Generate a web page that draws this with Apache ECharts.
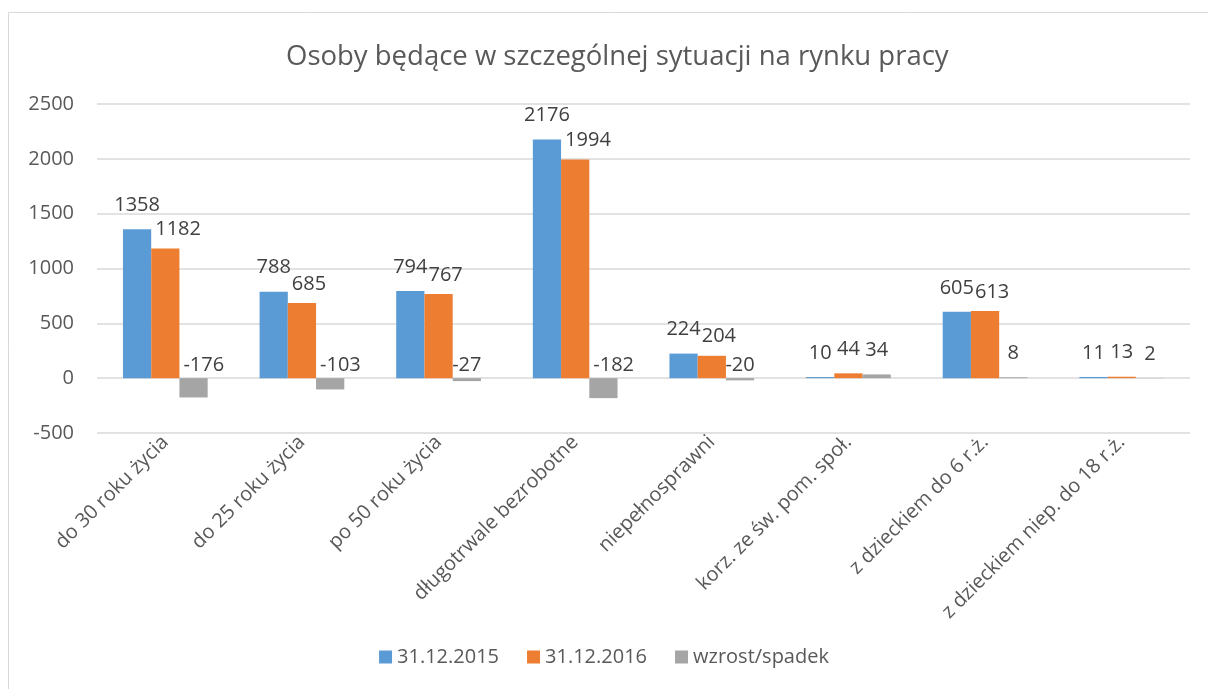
<!DOCTYPE html>
<html>
<head>
<meta charset="utf-8">
<script src="https://cdn.jsdelivr.net/npm/echarts@6/dist/echarts.min.js"></script>
<style>
  html, body { margin: 0; padding: 0; background: #fff; }
  #chart { width: 1208px; height: 689px; }
</style>
</head>
<body>
<div id="chart"></div>
<script>
// dane z wykresu
var categories = ['do 30 roku życia', 'do 25 roku życia', 'po 50 roku życia', 'długotrwale bezrobotne',
    'niepełnosprawni', 'korz. ze św. pom. społ.', 'z dzieckiem do 6 r.ż.', 'z dzieckiem niep. do 18 r.ż.']
var seriesNames = ['31.12.2015', '31.12.2016', 'wzrost/spadek']
var values2015 = [1358, 788, 794, 2176, 224, 10, 605, 11]
var values2016 = [1182, 685, 767, 1994, 204, 44, 613, 13]
var change = [-176, -103, -27, -182, -20, 34, 8, 2]
var colors = ['#5B9BD5', '#ED7D31', '#A5A5A5']

var FONT = 'Open Sans'
var textColor = '#595959'

// etykiety szersze niz slupek przesuwamy w prawo (jak w Excelu)
function shiftRight(data) {
    return function (params) {
        var lw = params.labelRect.width, bw = params.rect.width
        if (lw > bw + 2) {
            return { dx: (lw - bw) / 2 + 4, dy: data[params.dataIndex] < 0 ? 0 : 5 }
        }
        return {}
    }
}

function barSeries(name, data, color, shift) {
    return {
        name: name,
        type: 'bar',
        // ujemne slupki maja etykiete tuz nad osia
        data: data.map(function (v) {
            return v < 0 ? { value: v, label: { distance: 3 } } : v
        }),
        barGap: '0%',
        barCategoryGap: '38%',
        itemStyle: { color: color },
        label: {
            show: true,
            position: 'top',
            distance: 14,
            color: '#404040',
            fontFamily: FONT,
            fontSize: 20
        },
        labelLayout: shift ? shiftRight(data) : null
    }
}

var myChart = echarts.init(document.getElementById('chart'))
myChart.setOption({
    animation: false,
    color: colors,
    title: {
        text: 'Osoby będące w szczególnej sytuacji na rynku pracy',
        left: 281,
        top: 38,
        textStyle: { fontFamily: FONT, fontSize: 27.5, fontWeight: 'normal', color: textColor }
    },
    graphic: [{
        type: 'rect',
        shape: { x: 8.5, y: 12.5, width: 1200, height: 690 },
        style: { fill: 'none', stroke: '#D9D9D9', lineWidth: 1 },
        silent: true
    }],
    legend: {
        bottom: 17,
        left: 'center',
        itemWidth: 13,
        itemHeight: 13,
        itemGap: 28,
        icon: 'rect',
        textStyle: { fontFamily: FONT, fontSize: 20, color: textColor }
    },
    grid: { left: 97, right: 18, top: 104, bottom: 256, containLabel: false },
    xAxis: {
        type: 'category',
        data: categories,
        axisLine: { show: false },
        axisTick: { show: false },
        axisLabel: {
            rotate: 45,
            interval: 0,
            margin: 6,
            fontFamily: FONT,
            fontSize: 20,
            color: textColor
        }
    },
    yAxis: {
        type: 'value',
        min: -500,
        max: 2500,
        interval: 500,
        axisLine: { show: false },
        axisTick: { show: false },
        axisLabel: {
            fontFamily: FONT, fontSize: 20, color: textColor, margin: 23,
            formatter: function (v) { return String(v) }
        },
        splitLine: { lineStyle: { color: '#D9D9D9', width: 1.5 } }
    },
    series: [
        barSeries(seriesNames[0], values2015, colors[0], false),
        barSeries(seriesNames[1], values2016, colors[1], true),
        barSeries(seriesNames[2], change, colors[2], true)
    ]
})
</script>
</body>
</html>
